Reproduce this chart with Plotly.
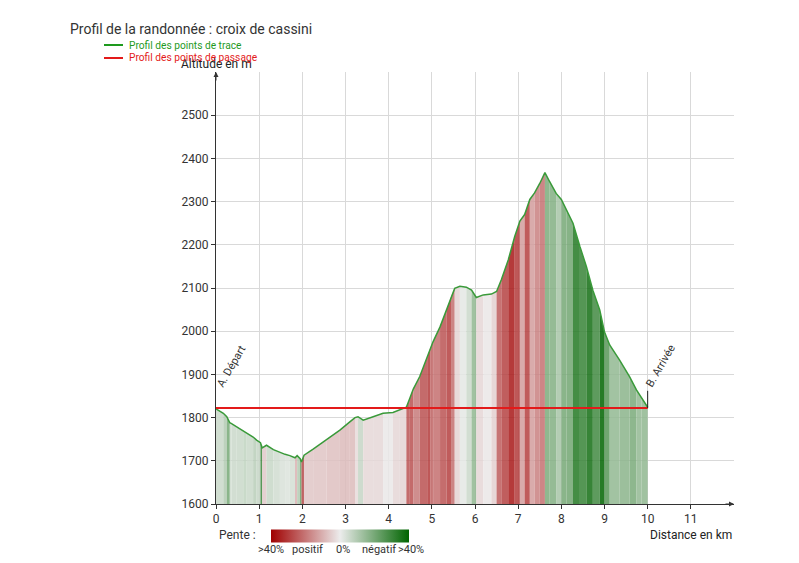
import plotly.graph_objects as go
from plotly.colors import sample_colorscale

# ---- data ----
dist_km = [0.00, 0.17, 0.25, 0.32, 0.36, 0.48, 0.63, 0.71, 0.86, 0.94, 1.03, 1.07,
           1.17, 1.33, 1.48, 1.60, 1.71, 1.83, 1.88, 1.95, 1.98, 2.04, 2.25, 2.56,
           2.87, 3.10, 3.22, 3.29, 3.41, 3.64, 3.87, 4.10, 4.26, 4.41, 4.49, 4.57,
           4.72, 4.91, 4.96, 5.03, 5.19, 5.34, 5.46, 5.53, 5.65, 5.80, 5.92, 6.03,
           6.19, 6.38, 6.50, 6.61, 6.77, 6.92, 7.04, 7.15, 7.27, 7.38, 7.50, 7.62,
           7.73, 7.88, 8.00, 8.12, 8.27, 8.43, 8.58, 8.73, 8.89, 9.00, 9.12, 9.35,
           9.58, 9.74, 9.86, 10.00]
altitude_m = [1820, 1810, 1802, 1788, 1786, 1779, 1770, 1764, 1755, 1748, 1742, 1730,
              1736, 1726, 1719, 1715, 1712, 1707, 1712, 1705, 1697, 1713, 1727, 1748,
              1771, 1790, 1800, 1802, 1794, 1802, 1810, 1812, 1818, 1824, 1845, 1866,
              1895, 1945, 1960, 1976, 2010, 2049, 2084, 2099, 2104, 2102, 2095, 2078,
              2084, 2086, 2092, 2119, 2165, 2219, 2255, 2270, 2305, 2320, 2342, 2367,
              2346, 2319, 2305, 2281, 2250, 2196, 2150, 2095, 2049, 1998, 1968, 1933,
              1895, 1864, 1846, 1824]

waypoint_names = ["A. Départ", "B. Arrivée"]
waypoint_dist = [0.0, 10.0]
waypoint_alt = [1822, 1822]

y_ticks = [1600, 1700, 1800, 1900, 2000, 2100, 2200, 2300, 2400, 2500]
x_ticks = [0, 1, 2, 3, 4, 5, 6, 7, 8, 9, 10, 11]
slope_labels = [">40%", "positif", "0%", "négatif", ">40%"]

# ---- style ----
FONT = "Roboto"
TXT = "#333333"
SLOPE_SCALE = [[0.0, "rgb(160,0,0)"], [0.5, "rgb(236,236,236)"], [1.0, "rgb(0,100,0)"]]
Y0 = 1600

# plot area in pixels (for paper-coordinate helpers)
L, R, T, B = 216, 734, 72, 504
def px(x):
    return (x - L) / (R - L)
def py(y):
    return (B - y) / (B - T)

fig = go.Figure()

# slope-coloured stripes under the profile
for i in range(len(dist_km) - 1):
    x0, x1 = dist_km[i], dist_km[i + 1]
    y0, y1 = altitude_m[i], altitude_m[i + 1]
    slope = (y1 - y0) / ((x1 - x0) * 1000) * 100
    slope = max(-40, min(40, slope))
    t = (40 - slope) / 80
    col = sample_colorscale(SLOPE_SCALE, [t], colortype="tuple")[0]
    fill = "rgba(%d,%d,%d,0.85)" % tuple(int(round(c * 255)) if c <= 1 else int(c) for c in col)
    fig.add_trace(go.Scatter(
        x=[x0, x0, x1, x1, x0], y=[Y0, y0, y1, Y0, Y0],
        mode="lines", fill="toself", fillcolor=fill,
        line=dict(width=0), hoverinfo="skip", showlegend=False))

# track profile line
fig.add_trace(go.Scatter(x=dist_km, y=altitude_m, mode="lines",
                         line=dict(color="#3a9a3a", width=1.5),
                         name="Profil des points de trace", showlegend=False))
# waypoints profile line
fig.add_trace(go.Scatter(x=waypoint_dist, y=waypoint_alt, mode="lines",
                         line=dict(color="#e31a1a", width=2),
                         name="Profil des points de passage", showlegend=False))

# colour bar for slope
fig.add_trace(go.Scatter(
    x=[None], y=[None], mode="markers", showlegend=False, hoverinfo="skip",
    marker=dict(color=[0], cmin=0, cmax=1, colorscale=SLOPE_SCALE, showscale=True,
                colorbar=dict(orientation="h", x=px(340), xanchor="center",
                              y=py(536), yanchor="middle", len=138, lenmode="pixels",
                              thickness=13, outlinewidth=0, showticklabels=False,
                              ticks="", xpad=0, ypad=0))))

annotations = []
shapes = []

# waypoint labels
annotations.append(dict(x=px(231), y=py(366), xref="paper", yref="paper",
                        text=waypoint_names[0], textangle=-60, showarrow=False,
                        font=dict(family=FONT, size=11, color=TXT),
                        xanchor="center", yanchor="middle"))
annotations.append(dict(x=px(660), y=py(366), xref="paper", yref="paper",
                        text=waypoint_names[1], textangle=-60, showarrow=False,
                        font=dict(family=FONT, size=11, color=TXT),
                        xanchor="center", yanchor="middle"))
shapes.append(dict(type="line", xref="x", yref="y", x0=waypoint_dist[1], x1=waypoint_dist[1],
                   y0=waypoint_alt[1], y1=waypoint_alt[1] + 40,
                   line=dict(color="#222222", width=1)))

# axis titles
annotations.append(dict(x=px(216), y=py(64), xref="paper", yref="paper",
                        text="Altitude en m", showarrow=False,
                        font=dict(family=FONT, size=12, color="#222222"),
                        xanchor="center", yanchor="middle"))
annotations.append(dict(x=px(734), y=py(535), xref="paper", yref="paper",
                        text="Distance en km", showarrow=False,
                        font=dict(family=FONT, size=12, color="#222222"),
                        xanchor="right", yanchor="middle"))

# axis arrows
annotations.append(dict(x=0, y=2600, xref="x", yref="y", ax=0, ay=10, text="",
                        showarrow=True, arrowhead=2, arrowsize=1, arrowwidth=1,
                        arrowcolor=TXT))
annotations.append(dict(x=12, y=1600, xref="x", yref="y", ax=-10, ay=0, text="",
                        showarrow=True, arrowhead=2, arrowsize=1, arrowwidth=1,
                        arrowcolor=TXT))

# slope legend
annotations.append(dict(x=px(217), y=py(535), xref="paper", yref="paper",
                        text="Pente :", showarrow=False,
                        font=dict(family=FONT, size=12, color=TXT),
                        xanchor="left", yanchor="middle"))
for lab, cx in zip(slope_labels, [271, 307, 343, 379, 411]):
    annotations.append(dict(x=px(cx), y=py(549), xref="paper", yref="paper",
                            text=lab, showarrow=False,
                            font=dict(family=FONT, size=11, color=TXT),
                            xanchor="center", yanchor="middle"))

# series legend (manual)
for name, col, ly in [("Profil des points de trace", "#1e9a1e", 45),
                      ("Profil des points de passage", "#e31a1a", 58)]:
    shapes.append(dict(type="line", xref="paper", yref="paper",
                       x0=px(104), x1=px(123), y0=py(ly), y1=py(ly),
                       line=dict(color=col, width=2)))
    annotations.append(dict(x=px(127), y=py(ly), xref="paper", yref="paper",
                            text=name, showarrow=False,
                            font=dict(family=FONT, size=10.2, color=col),
                            xanchor="left", yanchor="middle"))

fig.update_layout(
    width=799, height=563,
    margin=dict(l=L, r=799 - R, t=T, b=563 - B),
    paper_bgcolor="white", plot_bgcolor="white",
    font=dict(family=FONT, size=12, color=TXT),
    title=dict(text="Profil de la randonnée : croix de cassini",
               x=70 / 799, xanchor="left", xref="container",
               y=1 - 29 / 563, yanchor="middle", yref="container",
               font=dict(family=FONT, size=14, color=TXT)),
    annotations=annotations, shapes=shapes,
    xaxis=dict(range=[0, 12], tickvals=x_ticks, showgrid=True, gridcolor="#d9d9d9",
               gridwidth=1, zeroline=False, showline=True, linecolor=TXT, linewidth=1,
               ticks="outside", ticklen=4, tickcolor=TXT,
               tickfont=dict(family=FONT, size=12, color=TXT)),
    yaxis=dict(range=[1600, 2600], tickvals=y_ticks, showgrid=True, gridcolor="#d9d9d9",
               gridwidth=1, zeroline=False, showline=True, linecolor=TXT, linewidth=1,
               ticks="outside", ticklen=4, tickcolor=TXT,
               tickfont=dict(family=FONT, size=12, color=TXT)),
)

fig.write_html("out.html", config={"displayModeBar": False},
               post_script="document.body.style.margin='0';document.body.style.padding='0';")
